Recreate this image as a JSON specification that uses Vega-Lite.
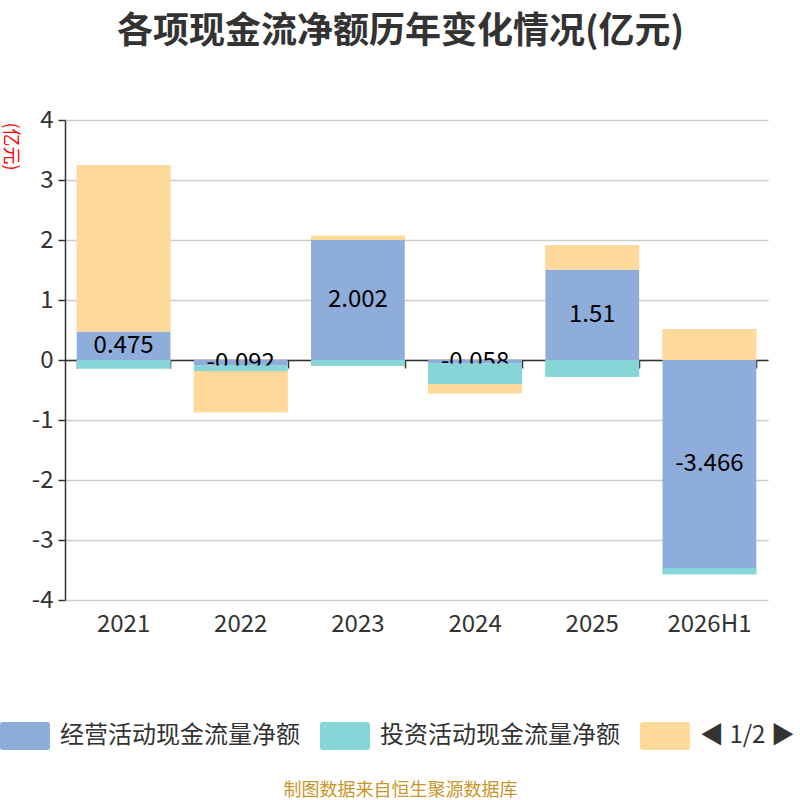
{
  "$schema": "https://vega.github.io/schema/vega-lite/v6.json",
  "width": 703,
  "height": 480,
  "autosize": {"type": "none"},
  "padding": {"left": 65, "top": 120, "right": 32, "bottom": 200},
  "background": "white",
  "config": {"font": "Noto Sans CJK SC", "view": {"stroke": null}},
  "title": {
    "text": "各项现金流净额历年变化情况(亿元)",
    "fontSize": 36,
    "fontWeight": "bold",
    "color": "#333333",
    "anchor": "middle",
    "dx": -16,
    "offset": 57
  },
  "data": {
    "values": [
      {"year": "2021", "type": "经营活动现金流量净额", "seq": 1, "value": 0.475},
      {"year": "2021", "type": "投资活动现金流量净额", "seq": 2, "value": -0.14},
      {"year": "2021", "type": "筹资活动现金流量净额", "seq": 3, "value": 2.77},
      {"year": "2022", "type": "经营活动现金流量净额", "seq": 1, "value": -0.092},
      {"year": "2022", "type": "投资活动现金流量净额", "seq": 2, "value": -0.09},
      {"year": "2022", "type": "筹资活动现金流量净额", "seq": 3, "value": -0.69},
      {"year": "2023", "type": "经营活动现金流量净额", "seq": 1, "value": 2.002},
      {"year": "2023", "type": "投资活动现金流量净额", "seq": 2, "value": -0.095},
      {"year": "2023", "type": "筹资活动现金流量净额", "seq": 3, "value": 0.07},
      {"year": "2024", "type": "经营活动现金流量净额", "seq": 1, "value": -0.058},
      {"year": "2024", "type": "投资活动现金流量净额", "seq": 2, "value": -0.347},
      {"year": "2024", "type": "筹资活动现金流量净额", "seq": 3, "value": -0.15},
      {"year": "2025", "type": "经营活动现金流量净额", "seq": 1, "value": 1.51},
      {"year": "2025", "type": "投资活动现金流量净额", "seq": 2, "value": -0.28},
      {"year": "2025", "type": "筹资活动现金流量净额", "seq": 3, "value": 0.405},
      {"year": "2026H1", "type": "经营活动现金流量净额", "seq": 1, "value": -3.466},
      {"year": "2026H1", "type": "投资活动现金流量净额", "seq": 2, "value": -0.105},
      {"year": "2026H1", "type": "筹资活动现金流量净额", "seq": 3, "value": 0.515}
    ]
  },
  "resolve": {"scale": {"y": "independent"}, "axis": {"x": "independent"}},
  "layer": [
    {
      "mark": {"type": "bar"},
      "encoding": {
        "x": {
          "field": "year",
          "type": "nominal",
          "sort": null,
          "scale": {"paddingInner": 0.2, "paddingOuter": 0.1},
          "axis": {
            "orient": "bottom",
            "title": "制图数据来自恒生聚源数据库",
            "titleColor": "#c8952b",
            "titleFontSize": 18,
            "titleFontWeight": "normal",
            "titleX": 335,
            "titleY": 190,
            "titleAlign": "center",
            "titleBaseline": "middle",
            "domain": false,
            "ticks": false,
            "labelAngle": 0,
            "labelFontSize": 24,
            "labelColor": "#333333",
            "labelPadding": 12
          }
        },
        "y": {
          "field": "value",
          "type": "quantitative",
          "stack": "zero",
          "scale": {"domain": [-4, 4], "nice": false},
          "axis": {
            "title": "(亿元)",
            "titleColor": "red",
            "titleFontSize": 18,
            "titleFontWeight": "normal",
            "titleAngle": 90,
            "titleX": -56,
            "titleY": 2,
            "titleAlign": "left",
            "titleBaseline": "middle",
            "values": [-4, -3, -2, -1, 0, 1, 2, 3, 4],
            "labelExpr": "replace(datum.label, '−', '-')",
            "labelFontSize": 24,
            "labelColor": "#333333",
            "labelPadding": 5,
            "domainColor": "#333333",
            "domainWidth": 1.5,
            "tickColor": "#333333",
            "tickSize": 7,
            "tickWidth": 1.5,
            "gridColor": "#cccccc",
            "gridWidth": 1.5
          }
        },
        "color": {
          "field": "type",
          "type": "nominal",
          "scale": {
            "domain": ["经营活动现金流量净额", "投资活动现金流量净额", "筹资活动现金流量净额"],
            "range": ["#8eaddb", "#88d5d8", "#fed999"]
          },
          "legend": {
            "orient": "none",
            "legendX": -65,
            "legendY": 591,
            "direction": "horizontal",
            "title": null,
            "symbolType": "M-0.9,-0.56 L0.9,-0.56 A0.1,0.1 0 0 1 1,-0.46 L1,0.46 A0.1,0.1 0 0 1 0.9,0.56 L-0.9,0.56 A0.1,0.1 0 0 1 -1,0.46 L-1,-0.46 A0.1,0.1 0 0 1 -0.9,-0.56 Z",
            "symbolSize": 2500,
            "symbolStrokeWidth": 0,
            "symbolOpacity": 1,
            "labelFontSize": 24,
            "labelColor": "#333333",
            "labelOffset": 10,
            "labelLimit": 400,
            "columnPadding": 20,
            "labelExpr": "datum.label == '筹资活动现金流量净额' ? '◀ 1/2 ▶' : datum.label"
          }
        },
        "order": {"field": "seq"}
      }
    },
    {
      "transform": [{"filter": "datum.seq == 1"}],
      "mark": {"type": "text", "fontSize": 24, "color": "#000000", "baseline": "middle"},
      "encoding": {
        "x": {
          "field": "year",
          "type": "nominal",
          "sort": null,
          "axis": {
            "orient": "bottom",
            "offset": -240,
            "title": null,
            "labels": false,
            "grid": false,
            "domain": true,
            "domainColor": "#333333",
            "domainWidth": 1.5,
            "ticks": true,
            "tickBand": "extent",
            "tickColor": "#333333",
            "tickSize": 8,
            "tickWidth": 1.5
          }
        },
        "y": {
          "field": "value",
          "type": "quantitative",
          "stack": null,
          "scale": {"domain": [-8, 8], "nice": false},
          "axis": null
        },
        "text": {"field": "value", "type": "nominal"}
      }
    },
    {
      "mark": {"type": "bar"},
      "encoding": {
        "x": {"field": "year", "type": "nominal", "sort": null, "axis": null},
        "y": {
          "field": "value",
          "type": "quantitative",
          "stack": "zero",
          "scale": {"domain": [-4, 4], "nice": false},
          "axis": null
        },
        "color": {"field": "type", "type": "nominal", "legend": null},
        "order": {"field": "seq"},
        "fillOpacity": {"condition": {"test": "datum.seq == 1", "value": 0}, "value": 1}
      }
    }
  ]
}
